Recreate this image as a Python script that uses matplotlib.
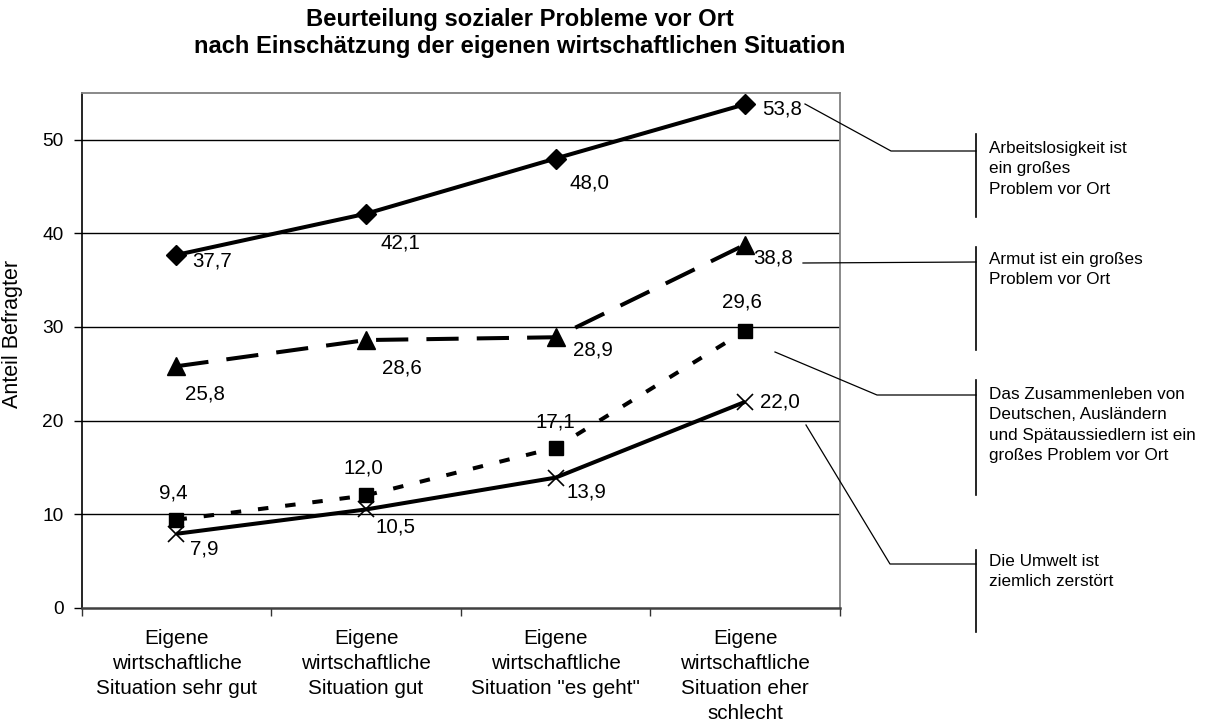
import matplotlib
matplotlib.use("Agg")
import matplotlib.pyplot as plt
from matplotlib.lines import Line2D

plt.rcParams['font.family'] = ['Liberation Sans', 'DejaVu Sans']

categories = ['Eigene\nwirtschaftliche\nSituation sehr gut',
              'Eigene\nwirtschaftliche\nSituation gut',
              'Eigene\nwirtschaftliche\nSituation "es geht"',
              'Eigene\nwirtschaftliche\nSituation eher\nschlecht']
arbeitslosigkeit = [37.7, 42.1, 48.0, 53.8]
armut = [25.8, 28.6, 28.9, 38.8]
zusammenleben = [9.4, 12.0, 17.1, 29.6]
umwelt = [7.9, 10.5, 13.9, 22.0]
series_names = ['Arbeitslosigkeit ist\nein großes\nProblem vor Ort',
                'Armut ist ein großes\nProblem vor Ort',
                'Das Zusammenleben von\nDeutschen, Ausländern\nund Spätaussiedlern ist ein\ngroßes Problem vor Ort',
                'Die Umwelt ist\nziemlich zerstört']
yticks = [0, 10, 20, 30, 40, 50]

W, H = 1207, 722
fig = plt.figure(figsize=(W / 100, H / 100), dpi=100)
ax = fig.add_axes([81.7 / W, 1 - 607.7 / H, (840 - 81.7) / W, (607.7 - 93) / H])

x = [i + 0.5 for i in range(len(categories))]
lw = 2.9
styles = [
    dict(data=arbeitslosigkeit, marker='D', ms=10, ls='-'),
    dict(data=armut, marker='^', ms=12.5, ls=(0, (8, 4.5))),
    dict(data=zusammenleben, marker='s', ms=10.5, ls=(0, (2.6, 4.2))),
    dict(data=umwelt, marker='x', ms=12, ls='-'),
]
for s in styles:
    ax.plot(x, s['data'], color='black', lw=lw, ls=s['ls'], marker=s['marker'],
            ms=s['ms'], mfc='black', mec='black', mew=1.2 if s['marker'] == 'x' else 1,
            dash_capstyle='butt', solid_capstyle='butt', zorder=3)

# data labels: offsets in pixels (dx, dy) relative to the point
label_offsets = [
    [(16, -6, 'left'), (14, -29, 'left'), (14, -24, 'left'), (17, -5, 'left')],
    [(9, -28, 'left'), (16, -28, 'left'), (17, -13, 'left'), (8, -13, 'left')],
    [(-3, 27, 'center'), (-3, 27, 'center'), (0, 26, 'center'), (-3, 29, 'center')],
    [(14, -15, 'left'), (9, -18, 'left'), (11, -14, 'left'), (15, 0, 'left')],
]
for s, offs in zip(styles, label_offsets):
    for xi, v, (dx, dy, ha) in zip(x, s['data'], offs):
        ax.annotate(f"{v:.1f}".replace('.', ','), (xi, v), xytext=(dx * 0.72, dy * 0.72),
                    textcoords='offset points', ha=ha, va='center', fontsize=14.8, zorder=4)

ax.set_xlim(0, 4)
ax.set_ylim(0, 55)
ax.set_yticks(yticks)
ax.set_yticklabels([str(t) for t in yticks], fontsize=13.8)
ax.set_xticks(x)
ax.set_xticklabels(categories, fontsize=14.9, linespacing=1.42, va='top')
ax.set_xticks([0, 1, 2, 3, 4], minor=True)
ax.tick_params(axis='x', which='major', length=0, pad=15)
ax.tick_params(axis='x', which='minor', length=6, width=1, direction='out', color='#333333')
ax.tick_params(axis='y', length=6, width=1, direction='out', pad=7)
for t in yticks[1:]:
    ax.axhline(t, color='black', lw=1, zorder=1)
ax.spines['left'].set_color('black')
ax.spines['left'].set_linewidth(1.2)
ax.spines['bottom'].set_color('#404040')
ax.spines['bottom'].set_linewidth(1.8)
for sp in ['top', 'right']:
    ax.spines[sp].set_color('#808080')
    ax.spines[sp].set_linewidth(1.3)
ax.set_ylabel('Anteil Befragter', fontsize=15.5)
ax.yaxis.set_label_coords(-0.078, 0.532)

fig.text(520 / W, 1 - 8 / H,
         'Beurteilung sozialer Probleme vor Ort\nnach Einschätzung der eigenen wirtschaftlichen Situation',
         ha='center', va='top', fontsize=17.1, fontweight='bold', linespacing=1.22)

def fp(px, py):
    return px / W, 1 - py / H

leaders = [
    [(805, 104), (891, 151), (976, 151)],
    [(803, 263), (976, 262)],
    [(775, 352), (877, 395), (976, 395)],
    [(806, 425), (890, 564), (976, 564)],
]
bars = [(134, 217), (247, 350), (380, 495), (550, 632)]
text_top = [141, 252, 387, 554]
for pts, (b0, b1), ty, name in zip(leaders, bars, text_top, series_names):
    xs, ys = zip(*[fp(*p) for p in pts])
    fig.add_artist(Line2D(xs, ys, color='black', lw=0.9))
    bx, by0 = fp(976, b0)
    _, by1 = fp(976, b1)
    fig.add_artist(Line2D([bx, bx], [by0, by1], color='black', lw=1.2))
    fig.text(989 / W, 1 - ty / H, name, ha='left', va='top', fontsize=12.3, linespacing=1.44)

fig.savefig('out.png', dpi=100)
